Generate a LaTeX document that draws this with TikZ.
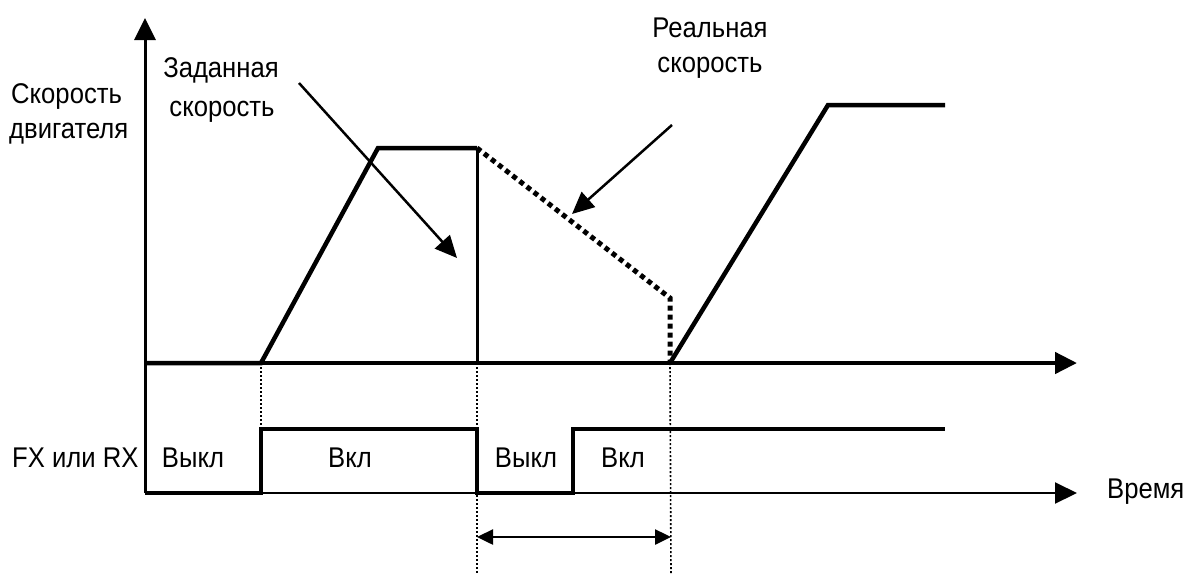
\documentclass[tikz,border=0pt]{standalone}
\usepackage{fontspec}
\setmainfont{Liberation Sans}[FakeStretch=0.9]
\usetikzlibrary{arrows.meta}
\begin{document}
\begin{tikzpicture}[x=1pt,y=-1pt,
  lbl/.style={inner sep=0pt,anchor=base,font=\fontsize{28.5}{32}\selectfont},
  lblw/.style={lbl,anchor=base west},
  axisline/.style={line width=3pt},
  thickline/.style={line width=4.5pt,line join=miter},
  thinsig/.style={line width=2pt},
  guide/.style={line width=1.6pt,dash pattern=on 2pt off 2pt},
  realsp/.style={line width=5pt,dash pattern=on 5pt off 4pt},
  pointer/.style={line width=2.5pt,-{Triangle[length=22pt,width=20pt]}},
  bigtip/.style={-{Triangle[length=22pt,width=21pt]}}
]
\useasboundingbox (0,0) rectangle (1190,574);
% coordinates
\coordinate (top) at (145,18);
\coordinate (O) at (145,363);
\coordinate (L) at (145,493);
\coordinate (xend) at (1077,363);
\coordinate (tend) at (1077,493);
\coordinate (s1) at (261,363);
\coordinate (s2) at (378,148);
\coordinate (s3) at (477,148);
\coordinate (s4) at (477,363);
\coordinate (r1) at (670,298);
\coordinate (r2) at (670,363);
\coordinate (s6) at (828,105);
\coordinate (s7) at (945,105);
\coordinate (f1) at (261,493);
\coordinate (f2) at (261,429);
\coordinate (f3) at (477,429);
\coordinate (f4) at (477,493);
\coordinate (f5) at (573,493);
\coordinate (f6) at (573,429);
\coordinate (f7) at (945,429);
\coordinate (g1) at (477,574);
\coordinate (g2) at (671,574);
\coordinate (d1) at (477,537);
\coordinate (d2) at (671,537);
\coordinate (za) at (299,83);
\coordinate (zb) at (457,258);
\coordinate (ra) at (672,125);
\coordinate (rb) at (572,214);

% axes
\draw[axisline,bigtip] (L) -- (top);
\draw[thinsig,bigtip] (L) -- (tend);
\draw[thickline,bigtip] (O) -- (xend);

% speed
\draw[thickline] (O) -- (s1) -- (s2) -- (s3);
\draw[line width=3pt] (s3) -- (s4);
\draw[thickline] (r2) -- (s6) -- (s7);
\draw[realsp] (s3) -- (r1) -- (r2);

% run signal
\draw[thickline] (L) -- (f1) -- (f2) -- (f3) -- (f4) -- (f5) -- (f6) -- (f7);

% guide lines
\draw[guide] (s1) -- (f2);
\draw[guide] (s4) -- (g1);
\draw[guide] (r2) -- (g2);

% interval arrow
\draw[line width=2.5pt,{Triangle[length=16pt,width=15pt]}-{Triangle[length=16pt,width=15pt]}] (d1) -- (d2);

% pointers
\draw[pointer] (za) -- (zb);
\draw[pointer] (ra) -- (rb);

% labels
\node[lblw] (ys1) at (11,103) {Скорость};
\node[lblw] (ys2) at (9,138) {двигателя};
\node[lbl] (z1) at (221,77) {Заданная};
\node[lbl] (z2) at (222,116) {скорость};
\node[lbl] (re1) at (710,37) {Реальная};
\node[lbl] (re2) at (710,72) {скорость};
\node[lblw] (fx) at (12,467) {FX или RX};
\node[lbl] (off1) at (193,467) {Выкл};
\node[lbl] (on1) at (350,467) {Вкл};
\node[lbl] (off2) at (526,467) {Выкл};
\node[lbl] (on2) at (623,467) {Вкл};
\node[lblw] (time) at (1107,498) {Время};
\end{tikzpicture}
\end{document}
